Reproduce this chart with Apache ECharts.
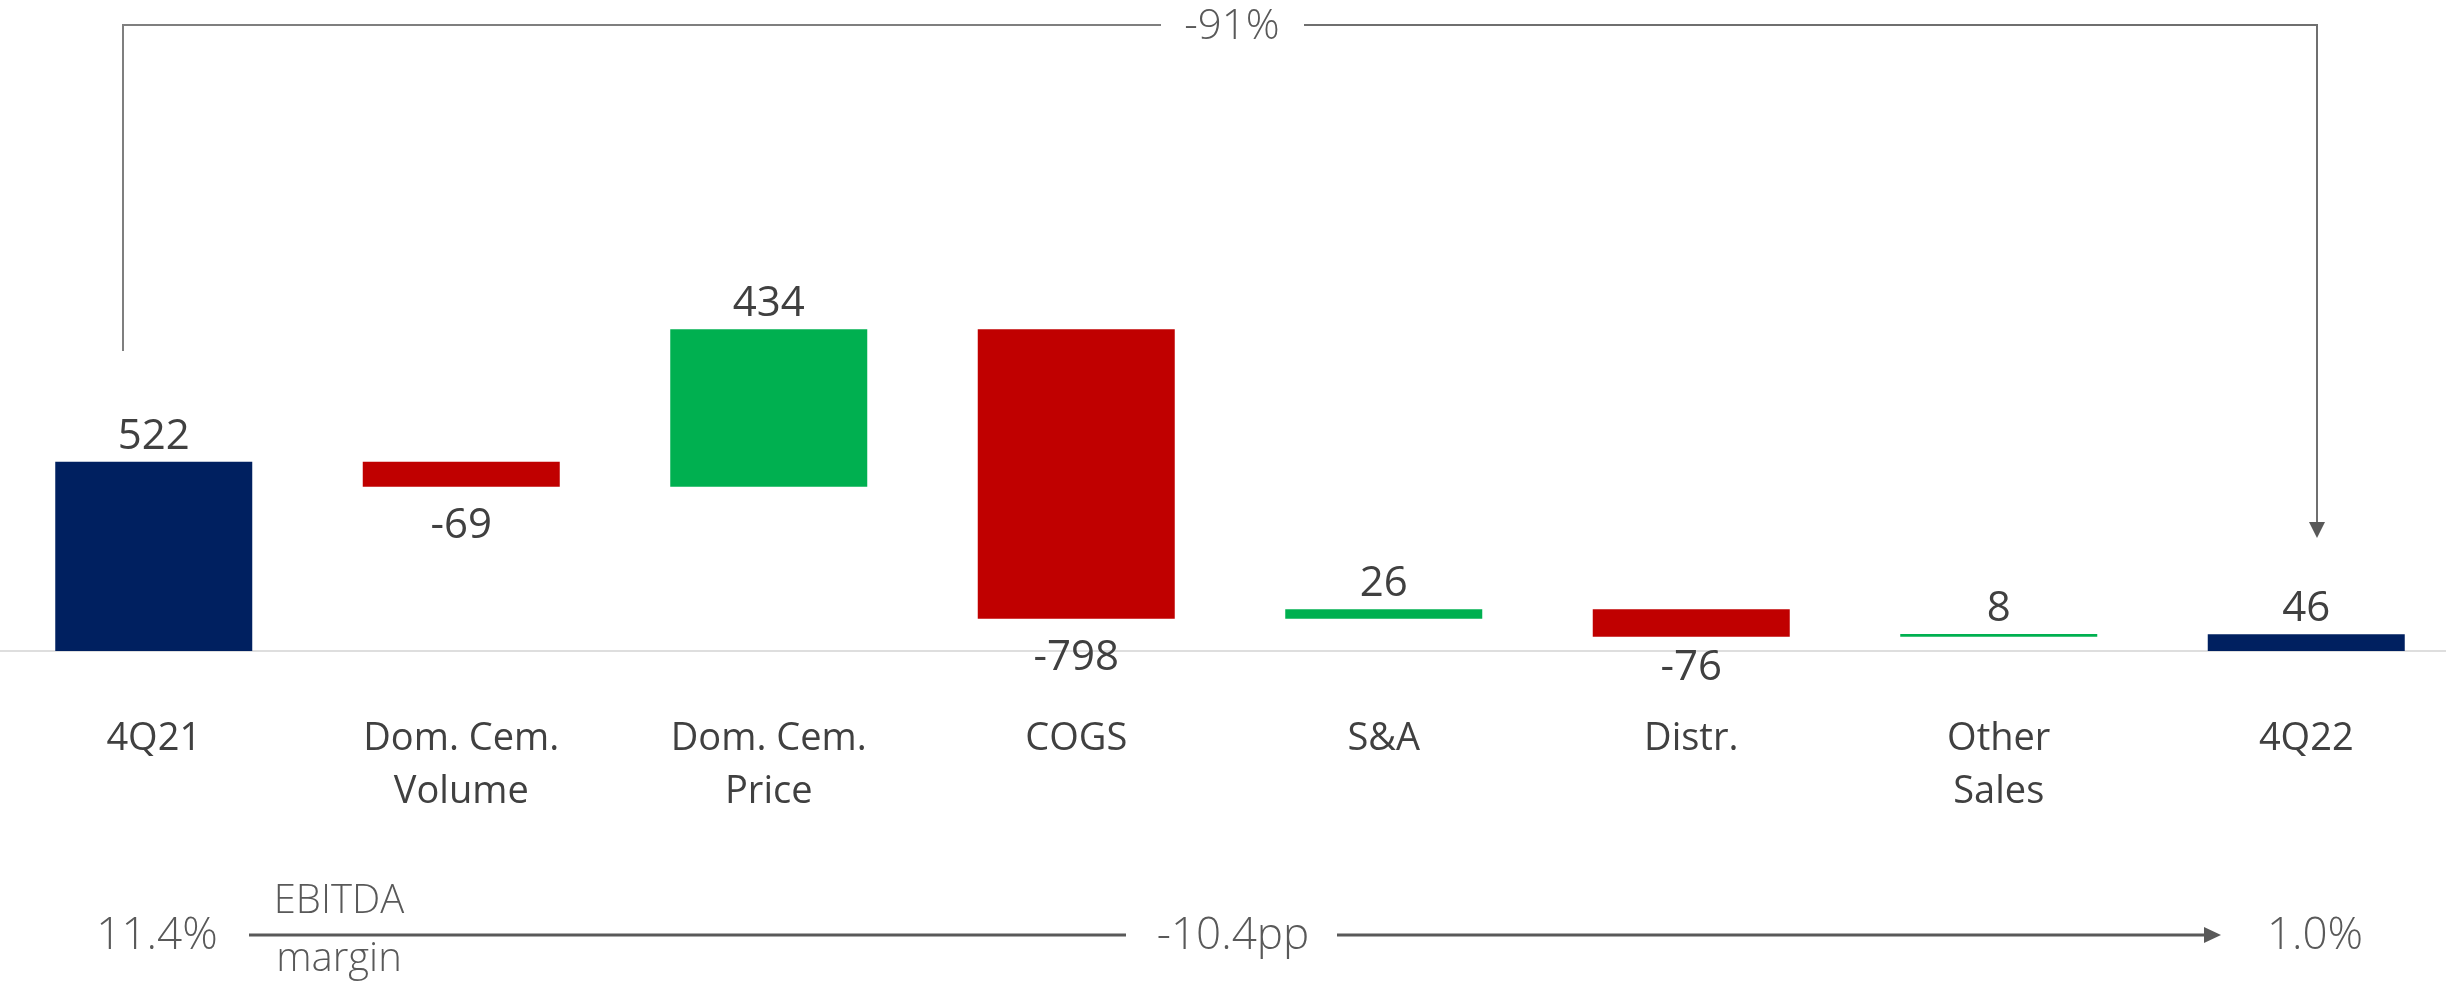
<!DOCTYPE html>
<html lang="en" style="height: 100%">
<head>
    <meta charset="UTF-8">
    <title>EBITDA bridge 4Q21 - 4Q22</title>
    <script src="https://cdn.jsdelivr.net/npm/echarts@6.0.0/dist/echarts.min.js"></script>
</head>
<body style="height: 100%; margin: 0; background: #fff">
    <div id="main" style="width: 2446px; height: 981px"></div>
    <script>
        // bridge data
        var categories = ['4Q21', 'Dom. Cem.\nVolume', 'Dom. Cem.\nPrice', 'COGS', 'S&A', 'Distr.', 'Other\nSales', '4Q22'];
        var changes = [522, -69, 434, -798, 26, -76, 8, 46];
        var isTotal = [true, false, false, false, false, false, false, true];

        // annotation texts
        var changeText = '-91%';
        var marginStart = '11.4%';
        var marginEnd = '1.0%';
        var marginDelta = '-10.4pp';
        var marginTitle = ['EBITDA', 'margin'];

        var NAVY = '#002060', RED = '#C00000', GREEN = '#00B050';
        var FONT = '"Open Sans", "Noto Sans", sans-serif';

        // build invisible base + visible bar for the waterfall
        var baseData = [], barData = [];
        var running = 0;
        changes.forEach(function (v, i) {
            var color, base, h;
            if (isTotal[i]) {
                base = 0; h = v; running = v; color = NAVY;
            } else {
                base = v >= 0 ? running : running + v;
                h = Math.abs(v);
                running += v;
                color = v >= 0 ? GREEN : RED;
            }
            baseData.push(base);
            barData.push({
                value: h,
                delta: v,
                itemStyle: { color: color },
                label: v >= 0 ? { position: 'top', distance: 4 } : { position: 'bottom', distance: 18 }
            });
        });
        // the Distr. label sits a little closer to its bar
        barData[5].label.distance = 10;

        var chart = echarts.init(document.getElementById('main'));

        var option = {
            animation: false,
            backgroundColor: '#fff',
            grid: { left: 0, right: -14, top: 107, height: 544, outerBoundsMode: 'none' },
            xAxis: {
                type: 'category',
                data: categories,
                axisLine: { lineStyle: { color: '#dedede', width: 2 } },
                axisTick: { show: false },
                axisLabel: {
                    interval: 0,
                    margin: 62,
                    fontFamily: FONT,
                    fontSize: 38,
                    lineHeight: 53,
                    color: '#404040'
                }
            },
            yAxis: {
                type: 'value',
                min: 0,
                max: 1500,
                show: false,
                splitLine: { show: false }
            },
            series: [
                {
                    type: 'bar',
                    stack: 'bridge',
                    silent: true,
                    barWidth: 197,
                    itemStyle: { color: 'transparent' },
                    data: baseData
                },
                {
                    type: 'bar',
                    stack: 'bridge',
                    barWidth: 197,
                    data: barData,
                    label: {
                        show: true,
                        fontFamily: FONT,
                        fontSize: 42,
                        color: '#404040',
                        formatter: function (p) { return String(p.data.delta); }
                    }
                }
            ],
            graphic: [
                // top bracket with -91%
                {
                    type: 'polyline',
                    shape: { points: [[123, 351], [123, 25], [1161, 25]] },
                    style: { stroke: '#7f7f7f', lineWidth: 2, fill: null }
                },
                {
                    type: 'polyline',
                    shape: { points: [[1304, 25], [2317, 25], [2317, 524]] },
                    style: { stroke: '#6f6f6f', lineWidth: 2, fill: null }
                },
                {
                    type: 'polygon',
                    shape: { points: [[2309, 522], [2325, 522], [2317, 538]] },
                    style: { fill: '#595959' }
                },
                {
                    type: 'text',
                    x: 1232, y: 27,
                    style: {
                        text: changeText, align: 'center', verticalAlign: 'middle',
                        font: '300 42px ' + FONT, fill: '#595959'
                    }
                },
                // EBITDA margin row
                {
                    type: 'text',
                    x: 157, y: 936,
                    style: {
                        text: marginStart, align: 'center', verticalAlign: 'middle',
                        font: '300 44px ' + FONT, fill: '#595959'
                    }
                },
                {
                    type: 'text',
                    x: 339, y: 902,
                    style: {
                        text: marginTitle[0], align: 'center', verticalAlign: 'middle',
                        font: '300 40px ' + FONT, fill: '#595959'
                    }
                },
                {
                    type: 'text',
                    x: 339, y: 960,
                    style: {
                        text: marginTitle[1], align: 'center', verticalAlign: 'middle',
                        font: '300 40px ' + FONT, fill: '#595959'
                    }
                },
                {
                    type: 'line',
                    shape: { x1: 249, y1: 935, x2: 1126, y2: 935 },
                    style: { stroke: '#595959', lineWidth: 3 }
                },
                {
                    type: 'text',
                    x: 1233, y: 936,
                    style: {
                        text: marginDelta, align: 'center', verticalAlign: 'middle',
                        font: '300 44px ' + FONT, fill: '#595959'
                    }
                },
                {
                    type: 'line',
                    shape: { x1: 1337, y1: 935, x2: 2206, y2: 935 },
                    style: { stroke: '#595959', lineWidth: 3 }
                },
                {
                    type: 'polygon',
                    shape: { points: [[2204, 927], [2204, 943], [2221, 935]] },
                    style: { fill: '#595959' }
                },
                {
                    type: 'text',
                    x: 2315, y: 936,
                    style: {
                        text: marginEnd, align: 'center', verticalAlign: 'middle',
                        font: '300 44px ' + FONT, fill: '#595959'
                    }
                }
            ]
        };

        chart.setOption(option);
    </script>
</body>
</html>
